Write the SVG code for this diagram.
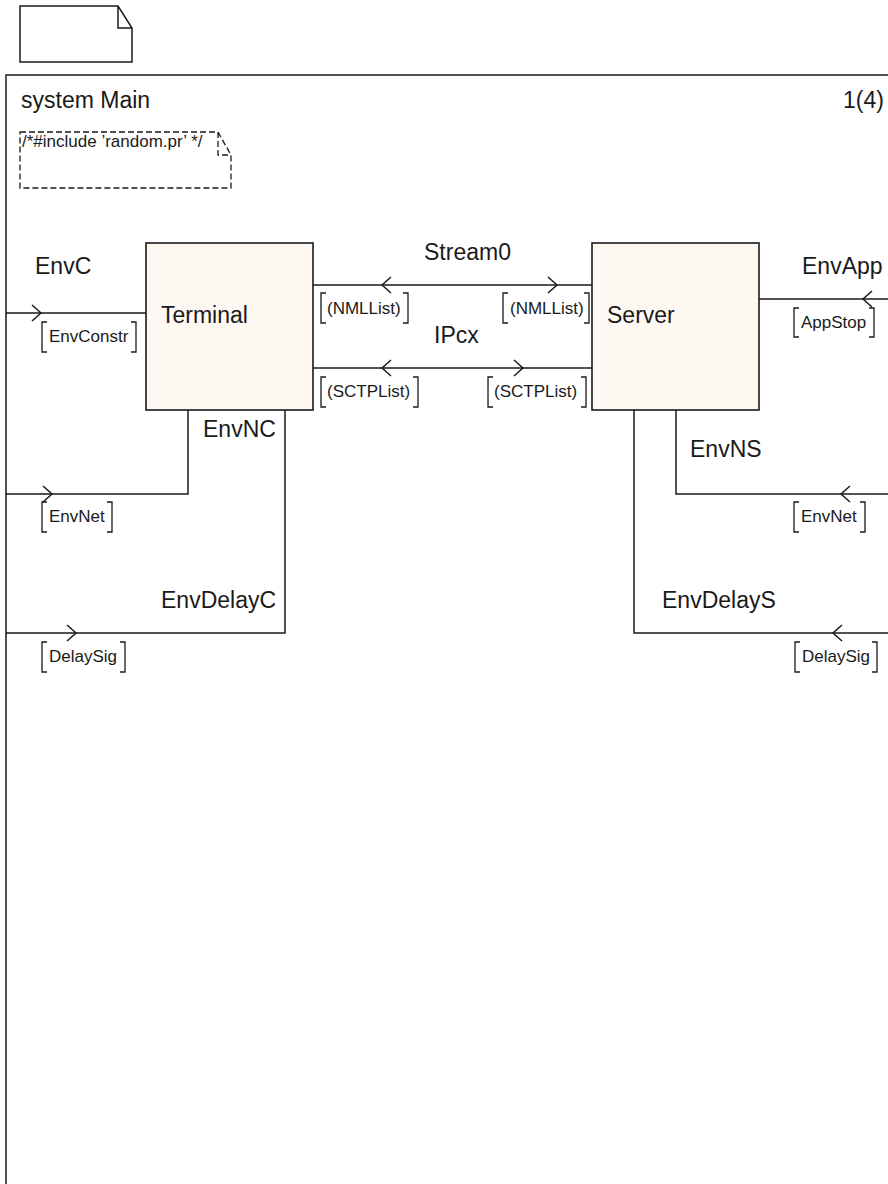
<svg xmlns="http://www.w3.org/2000/svg" width="888" height="1184" viewBox="0 0 888 1184">
<style>
.ln{fill:none;stroke:#1a1a1a;stroke-width:1.5}
.blk{fill:#fef8f2;stroke:#1a1a1a;stroke-width:1.6}
.t{font-family:"Liberation Sans",Arial,sans-serif;font-size:23px;fill:#1a1a1a}
.s{font-family:"Liberation Sans",Arial,sans-serif;font-size:17px;fill:#1a1a1a}
.dash{fill:none;stroke:#1a1a1a;stroke-width:1.3;stroke-dasharray:6,3}
.br{fill:none;stroke:#1a1a1a;stroke-width:1.3}
</style>
<rect width="888" height="1184" fill="#ffffff"/>
<g id="page-icon">
<path class="ln" d="M20,6 H118 L132,28 V62 H20 Z M118,6 V28 H132"/>
</g>
<g id="frame">
<path class="ln" d="M6,1184 V75 H888"/>
<text class="t" x="21" y="108">system Main</text>
<text class="t" x="843" y="108">1(4)</text>
</g>
<g id="comment">
<path class="dash" d="M20,132 H218 L231,155 V188 H20 Z M218,132 V155 H231"/>
<text class="s" x="22" y="147">/*#include ’random.pr’ */</text>
</g>
<g id="Terminal">
<rect class="blk" x="146" y="243" width="167" height="167"/>
<text class="t" x="161" y="323">Terminal</text>
</g>
<g id="Server">
<rect class="blk" x="592" y="243" width="167" height="167"/>
<text class="t" x="607" y="323">Server</text>
</g>
<g id="connectors">
<!-- EnvC -->
<path class="ln" d="M6,313 H146"/>
<path class="ln" d="M32,305 L41,313 L32,321"/>
<text class="t" x="35" y="274">EnvC</text>
<path class="br" d="M47,322 H42 V352 H47 M131,322 H136 V352 H131"/>
<text class="s" x="49" y="342">EnvConstr</text>
<!-- Stream0 -->
<path class="ln" d="M313,285 H592"/>
<path class="ln" d="M391,277 L382,285 L391,293"/>
<path class="ln" d="M548,277 L557,285 L548,293"/>
<text class="t" x="424" y="260">Stream0</text>
<path class="br" d="M326,293 H321 V323 H326 M403,293 H408 V323 H403"/>
<text class="s" x="327" y="314">(NMLList)</text>
<path class="br" d="M508,293 H503 V323 H508 M584,293 H589 V323 H584"/>
<text class="s" x="510" y="314">(NMLList)</text>
<!-- IPcx -->
<path class="ln" d="M313,368 H592"/>
<path class="ln" d="M391,360 L382,368 L391,376"/>
<path class="ln" d="M514,360 L523,368 L514,376"/>
<text class="t" x="434" y="343">IPcx</text>
<path class="br" d="M326,377 H321 V407 H326 M413,377 H418 V407 H413"/>
<text class="s" x="327" y="397">(SCTPList)</text>
<path class="br" d="M493,377 H488 V407 H493 M581,377 H586 V407 H581"/>
<text class="s" x="494" y="397">(SCTPList)</text>
<!-- EnvApp -->
<path class="ln" d="M759,299 H888"/>
<path class="ln" d="M872,291 L863,299 L872,307"/>
<text class="t" x="802" y="274">EnvApp</text>
<path class="br" d="M799,308 H794 V337 H799 M869,308 H874 V337 H869"/>
<text class="s" x="801" y="328">AppStop</text>
<!-- EnvNC -->
<path class="ln" d="M188,410 V494 H6"/>
<path class="ln" d="M43,486 L52,494 L43,502"/>
<text class="t" x="203" y="437">EnvNC</text>
<path class="br" d="M47,502 H42 V532 H47 M107,502 H112 V532 H107"/>
<text class="s" x="49" y="522">EnvNet</text>
<!-- EnvDelayC -->
<path class="ln" d="M285,410 V633 H6"/>
<path class="ln" d="M67,625 L76,633 L67,641"/>
<text class="t" x="161" y="608">EnvDelayC</text>
<path class="br" d="M47,642 H42 V672 H47 M120,642 H125 V672 H120"/>
<text class="s" x="49" y="662">DelaySig</text>
<!-- EnvNS -->
<path class="ln" d="M676,410 V494 H888"/>
<path class="ln" d="M850,486 L841,494 L850,502"/>
<text class="t" x="690" y="457">EnvNS</text>
<path class="br" d="M799,502 H794 V532 H799 M860,502 H865 V532 H860"/>
<text class="s" x="801" y="522">EnvNet</text>
<!-- EnvDelayS -->
<path class="ln" d="M634,410 V633 H888"/>
<path class="ln" d="M842,625 L833,633 L842,641"/>
<text class="t" x="662" y="608">EnvDelayS</text>
<path class="br" d="M800,642 H795 V672 H800 M872,642 H877 V672 H872"/>
<text class="s" x="802" y="662">DelaySig</text>
</g>
</svg>
